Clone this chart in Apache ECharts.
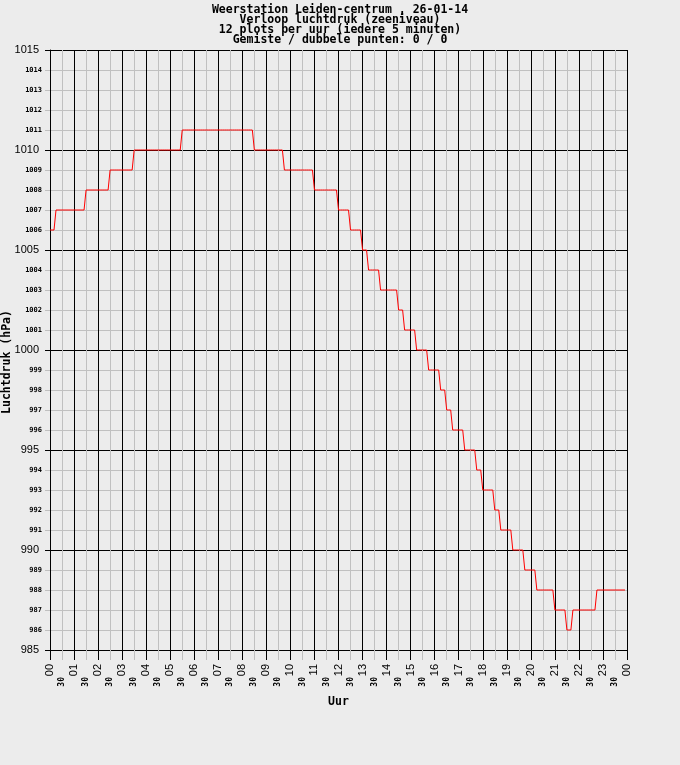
<!DOCTYPE html>
<html>
<head>
<meta charset="utf-8">
<script src="https://cdn.jsdelivr.net/npm/echarts@6/dist/echarts.min.js"></script>
<style>
html,body{margin:0;padding:0;background:#ECECEC;}
#chart{width:680px;height:765px;}
</style>
</head>
<body>
<div id="chart"></div>
<script>
// Title lines
const titleLines = [
  'Weerstation Leiden-centrum , 26-01-14',
  'Verloop luchtdruk (zeeniveau)',
  '12 plots per uur (iedere 5 minuten)',
  'Gemiste / dubbele punten: 0 / 0'
];
const yName = 'Luchtdruk (hPa)';
const xName = 'Uur';
// hour tick labels (00 .. 23, 00)
const hourLabels = ['00','01','02','03','04','05','06','07','08','09','10','11',
                    '12','13','14','15','16','17','18','19','20','21','22','23','00'];
const halfLabel = '30';
// pressure (hPa), one value every 5 minutes, 12 per hour, starting 00:00
const pressure = [
  1006,1006,1006,1007,1007,1007,1007,1007,1007,1007,1007,1007, // 00
  1007,1007,1007,1007,1007,1007,1008,1008,1008,1008,1008,1008, // 01
  1008,1008,1008,1008,1008,1008,1009,1009,1009,1009,1009,1009, // 02
  1009,1009,1009,1009,1009,1009,1010,1010,1010,1010,1010,1010, // 03
  1010,1010,1010,1010,1010,1010,1010,1010,1010,1010,1010,1010, // 04
  1010,1010,1010,1010,1010,1010,1011,1011,1011,1011,1011,1011, // 05
  1011,1011,1011,1011,1011,1011,1011,1011,1011,1011,1011,1011, // 06
  1011,1011,1011,1011,1011,1011,1011,1011,1011,1011,1011,1011, // 07
  1011,1011,1011,1011,1011,1011,1010,1010,1010,1010,1010,1010, // 08
  1010,1010,1010,1010,1010,1010,1010,1010,1010,1009,1009,1009, // 09
  1009,1009,1009,1009,1009,1009,1009,1009,1009,1009,1009,1009, // 10
  1008,1008,1008,1008,1008,1008,1008,1008,1008,1008,1008,1008, // 11
  1007,1007,1007,1007,1007,1007,1006,1006,1006,1006,1006,1006, // 12
  1005,1005,1005,1004,1004,1004,1004,1004,1004,1003,1003,1003, // 13
  1003,1003,1003,1003,1003,1003,1002,1002,1002,1001,1001,1001, // 14
  1001,1001,1001,1000,1000,1000,1000,1000,1000,999,999,999,    // 15
  999,999,999,998,998,998,997,997,997,996,996,996,             // 16
  996,996,996,995,995,995,995,995,995,994,994,994,             // 17
  993,993,993,993,993,993,992,992,992,991,991,991,             // 18
  991,991,991,990,990,990,990,990,990,989,989,989,             // 19
  989,989,989,988,988,988,988,988,988,988,988,988,             // 20
  987,987,987,987,987,987,986,986,986,987,987,987,             // 21
  987,987,987,987,987,987,987,987,987,988,988,988,             // 22
  988,988,988,988,988,988,988,988,988,988,988,988              // 23
];
const yMin = 985, yMax = 1015;
const pointsPerHour = 12;

const BLACK = '#000000';
const GREY = '#C0C0C0';
const MONO = '"DejaVu Sans Mono", "Liberation Mono", monospace';
const SANS = '"Liberation Sans", Arial, sans-serif';

const chart = echarts.init(document.getElementById('chart'), null, {renderer: 'canvas'});
chart.setOption({
  animation: false,
  backgroundColor: '#ECECEC',
  graphic: [{
    type: 'text',
    x: 340, y: 5,
    style: {text: titleLines.join('\n'), fontFamily: MONO, fontWeight: 'bold', fontSize: 11.5,
            lineHeight: 10, fill: '#000', align: 'center', verticalAlign: 'top'}
  }, {
    type: 'text',
    x: 7.5, y: 362,
    rotation: Math.PI / 2,
    style: {text: yName, fontFamily: MONO, fontWeight: 'bold', fontSize: 11.5,
            fill: '#000', align: 'center', verticalAlign: 'middle'}
  }],
  grid: {left: 50, top: 50, width: 577, height: 600, show: false},
  xAxis: [{
    type: 'value', min: 0, max: 24, interval: 1,
    name: xName, nameLocation: 'middle', nameGap: 46,
    nameTextStyle: {fontFamily: MONO, fontWeight: 'bold', fontSize: 11.5, color: '#000'},
    axisLine: {show: true, lineStyle: {color: BLACK, width: 1}},
    axisTick: {show: true, inside: false, length: 10, lineStyle: {color: BLACK, width: 1}},
    minorTick: {show: true, splitNumber: 2, length: 10, lineStyle: {color: GREY, width: 1}},
    splitLine: {show: true, lineStyle: {color: BLACK, width: 1}},
    minorSplitLine: {show: true, lineStyle: {color: GREY, width: 1}},
    axisLabel: {
      rotate: 90, margin: 14, fontFamily: SANS, fontSize: 11, color: '#000',
      showMinLabel: true, showMaxLabel: true,
      formatter: v => hourLabels[Math.round(v)]
    }
  }, {
    type: 'value', min: 0, max: 24, interval: 0.5, position: 'bottom', gridIndex: 0,
    axisLine: {show: false}, axisTick: {show: false}, splitLine: {show: false},
    axisLabel: {
      rotate: 90, margin: 27, fontFamily: MONO, fontWeight: 'bold', fontSize: 8, color: '#000',
      showMinLabel: false, showMaxLabel: false,
      formatter: v => (Math.abs(v - Math.round(v)) > 0.1 ? halfLabel : '')
    }
  }],
  yAxis: [{
    type: 'value', min: yMin, max: yMax, interval: 5,
    axisLine: {show: true, lineStyle: {color: BLACK, width: 1}},
    axisTick: {show: true, inside: false, length: 5, lineStyle: {color: BLACK, width: 1}},
    minorTick: {show: true, splitNumber: 5, length: 5, lineStyle: {color: GREY, width: 1}},
    splitLine: {show: true, lineStyle: {color: BLACK, width: 1}},
    minorSplitLine: {show: true, lineStyle: {color: GREY, width: 1}},
    axisLabel: {margin: 11, fontFamily: SANS, fontSize: 11, color: '#000',
                showMinLabel: true, showMaxLabel: true,
                formatter: v => String(Math.round(v))}
  }, {
    type: 'value', min: yMin, max: yMax, interval: 1, position: 'left', gridIndex: 0,
    axisLine: {show: false}, axisTick: {show: false}, splitLine: {show: false},
    axisLabel: {margin: 8, fontFamily: MONO, fontWeight: 'bold', fontSize: 7, color: '#000',
                formatter: v => (Math.round(v) % 5 === 0 ? '' : String(Math.round(v)))}
  }],
  series: [{
    type: 'line',
    xAxisIndex: 0, yAxisIndex: 0,
    data: pressure.map((v, i) => [i / pointsPerHour, v]),
    showSymbol: false, symbol: 'none',
    lineStyle: {color: '#FF0000', width: 1},
    itemStyle: {color: '#FF0000'},
    z: 5
  }]
});
</script>
</body>
</html>
